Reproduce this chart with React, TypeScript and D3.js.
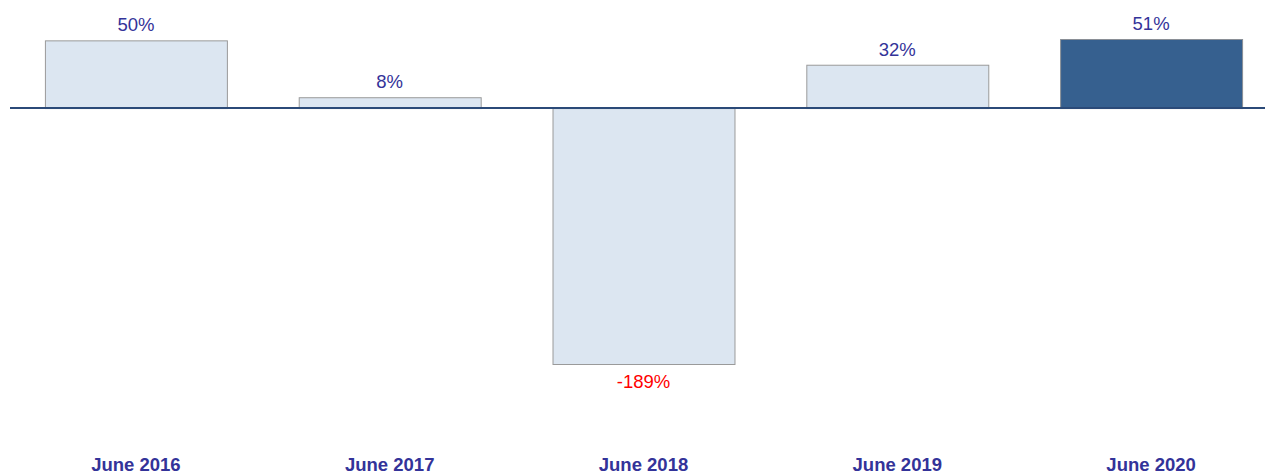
import React from 'react'
import { scaleBand, scaleLinear } from 'd3'

const width = 1265
const height = 475

const categories = ['June 2016', 'June 2017', 'June 2018', 'June 2019', 'June 2020']
const values = [50, 8, -189, 32, 51]
const highlight = ['June 2020']

const xScale = scaleBand()
  .domain(categories)
  .range([17, 1270])
  .paddingInner(0.283)
  .paddingOuter(0.11)

const yScale = scaleLinear()
  .domain([-189, 51])
  .range([364, 39])

const labelColor = '#333399'
const font = 'Liberation Sans, Arial, sans-serif'

export default function App() {
  const y0 = yScale(0)
  return (
    <svg width={width} height={height} style={{ position: 'absolute', left: 0, top: 0 }}>
      {categories.map((c, i) => {
        const v = values[i]
        const x = xScale(c)!
        const bw = xScale.bandwidth()
        const top = Math.min(yScale(v), y0)
        const h = Math.abs(yScale(v) - y0)
        const hi = highlight.includes(c)
        return (
          <g key={c}>
            <rect
              x={x + 0.5}
              y={top + 0.5}
              width={bw}
              height={h}
              fill={hi ? '#36608f' : '#dce6f1'}
              stroke={hi ? '#8a8f96' : '#9a9a9a'}
              strokeWidth={1}
            />
            <text
              x={x + bw / 2}
              y={v >= 0 ? yScale(v) - 9 : yScale(v) + 24}
              textAnchor="middle"
              style={{ fontFamily: font, fontSize: 18.5, fill: v >= 0 ? labelColor : '#ff0000' }}
            >
              {`${v}%`}
            </text>
            <text
              x={x + bw / 2}
              y={471}
              textAnchor="middle"
              style={{ fontFamily: font, fontSize: 18.5, fontWeight: 'bold', fill: labelColor }}
            >
              {c}
            </text>
          </g>
        )
      })}
      <line x1={10} x2={width} y1={y0} y2={y0} stroke="#2b4a78" strokeWidth={2} />
    </svg>
  )
}
